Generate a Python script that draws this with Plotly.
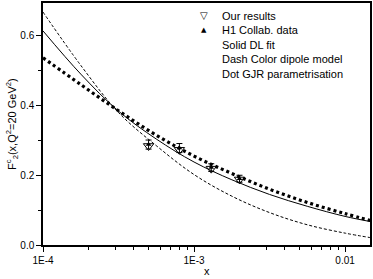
import plotly.graph_objects as go

# Curves
x_curve = [1e-4, 1.78e-4, 3.16e-4, 5.62e-4, 1e-3, 1.78e-3, 3.16e-3, 5.62e-3, 1e-2, 1.48e-2]
dl_fit = [0.614, 0.490, 0.384, 0.304, 0.238, 0.187, 0.145, 0.111, 0.082, 0.067]
dipole = [0.668, 0.515, 0.380, 0.285, 0.202, 0.140, 0.093, 0.058, 0.034, 0.021]
gjr = [0.537, 0.460, 0.385, 0.315, 0.255, 0.205, 0.160, 0.122, 0.090, 0.070]

# Data points
x_data = [5e-4, 8e-4, 1.3e-3, 2e-3]
our_results = [0.284, 0.273, 0.219, 0.188]
h1_data = [0.288, 0.278, 0.222, 0.190]
h1_err = [0.013, 0.013, 0.011, 0.010]

legend_labels = ["Our results", "H1 Collab. data", "Solid DL fit",
                 "Dash Color dipole model", "Dot GJR parametrisation"]
legend_symbols = ["▽", "▲", "", "", ""]

FONT = "Liberation Sans, Arial, sans-serif"

fig = go.Figure()
fig.add_trace(go.Scatter(x=x_curve, y=dl_fit, mode="lines",
                         line=dict(color="black", width=1, shape="spline", smoothing=1.0), showlegend=False))
fig.add_trace(go.Scatter(x=x_curve, y=dipole, mode="lines",
                         line=dict(color="black", width=1, dash="3px,2px", shape="spline", smoothing=1.0), showlegend=False))
fig.add_trace(go.Scatter(x=x_curve, y=gjr, mode="lines",
                         line=dict(color="black", width=3.2, dash="3px,3px", shape="spline", smoothing=1.0), showlegend=False))
fig.add_trace(go.Scatter(x=x_data, y=h1_data, mode="markers",
                         marker=dict(symbol="triangle-up", size=5, color="black"),
                         error_y=dict(type="data", array=h1_err, color="black", thickness=1, width=3),
                         showlegend=False))
fig.add_trace(go.Scatter(x=x_data, y=our_results, mode="markers",
                         marker=dict(symbol="triangle-down-open", size=9, color="black", line=dict(width=1)),
                         showlegend=False))

annotations = []
y_top = 0.657
dy = 0.0415
for i, (lab, sym) in enumerate(zip(legend_labels, legend_symbols)):
    yy = y_top - i * dy
    annotations.append(dict(x=0.541, y=yy, xref="paper", yref="y", text=lab,
                            showarrow=False, xanchor="left", yanchor="middle",
                            font=dict(family=FONT, size=11, color="black")))
    if sym:
        annotations.append(dict(x=0.493, y=yy, xref="paper", yref="y", text=sym,
                                showarrow=False, xanchor="center", yanchor="middle",
                                font=dict(family="DejaVu Sans", size=7 if i == 1 else 10, color="black")))

# axis titles
annotations.append(dict(x=0.5, y=-0.108, xref="paper", yref="paper", text="x",
                        showarrow=False, xanchor="center", yanchor="middle",
                        font=dict(family=FONT, size=11, color="black")))
annotations.append(dict(x=-0.095, y=0.5, xref="paper", yref="paper",
                        text="F<sup>c</sup><sub>2</sub>(x,Q<sup>2</sup>=20 GeV<sup>2</sup>)",
                        textangle=-90, showarrow=False, xanchor="center", yanchor="middle",
                        font=dict(family=FONT, size=11, color="black")))

fig.update_layout(
    width=373, height=279,
    margin=dict(l=43, r=2, t=1, b=34),
    paper_bgcolor="white", plot_bgcolor="white",
    font=dict(family=FONT, size=10, color="black"),
    annotations=annotations,
    showlegend=False,
)
fig.update_xaxes(type="log", range=[-4, -1.835],
                 tickvals=[1e-4, 1e-3, 1e-2], ticktext=["1E-4", "1E-3", "0.01"],
                 ticks="outside", ticklen=5, tickwidth=1, tickcolor="black",
                 minor=dict(tickvals=[2e-4, 3e-4, 4e-4, 5e-4, 6e-4, 7e-4, 8e-4, 9e-4,
                                      2e-3, 3e-3, 4e-3, 5e-3, 6e-3, 7e-3, 8e-3, 9e-3],
                            ticks="outside", ticklen=3, tickcolor="black", showgrid=False),
                 showline=True, linecolor="black", linewidth=1.5, mirror=True,
                 showgrid=False, zeroline=False,
                 tickfont=dict(family=FONT, size=10))
fig.update_yaxes(range=[0, 0.694], tickvals=[0, 0.2, 0.4, 0.6], ticktext=["0.0", "0.2", "0.4", "0.6"],
                 ticks="outside", ticklen=5, tickwidth=1, tickcolor="black",
                 minor=dict(tickvals=[0.1, 0.3, 0.5], ticks="outside", ticklen=3, tickcolor="black", showgrid=False),
                 showline=True, linecolor="black", linewidth=1.5, mirror=True,
                 showgrid=False, zeroline=False,
                 tickfont=dict(family=FONT, size=10))

fig.write_html("out.html", post_script="document.body.style.margin='0';",
               config={"displayModeBar": False})
